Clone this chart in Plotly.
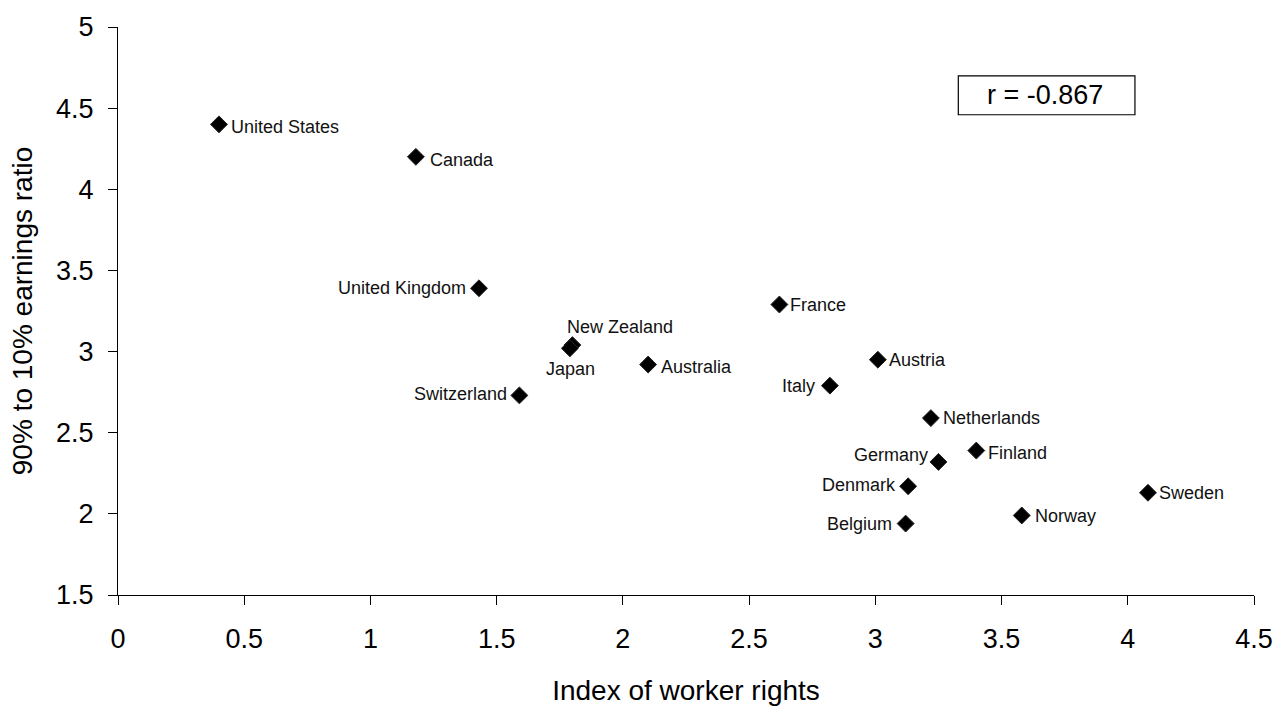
import plotly.graph_objects as go

# ---- data ----
countries = ["United States", "Canada", "United Kingdom", "New Zealand", "Japan",
             "Australia", "Switzerland", "France", "Austria", "Italy", "Netherlands",
             "Germany", "Finland", "Denmark", "Belgium", "Norway", "Sweden"]
worker_rights = [0.40, 1.18, 1.43, 1.80, 1.79, 2.10, 1.59, 2.62, 3.01, 2.82, 3.22,
                 3.25, 3.40, 3.13, 3.12, 3.58, 4.08]
earnings_ratio = [4.40, 4.20, 3.39, 3.04, 3.02, 2.92, 2.73, 3.29, 2.95, 2.79, 2.59,
                  2.32, 2.39, 2.17, 1.94, 1.99, 2.13]
x_ticks = [0, 0.5, 1, 1.5, 2, 2.5, 3, 3.5, 4, 4.5]
y_ticks = [1.5, 2, 2.5, 3, 3.5, 4, 4.5, 5]
correlation_text = "r = -0.867"

# ---- label placement (style only): (xanchor, xshift, yshift) ----
label_style = {
    "United States": ("left", 10, -3),
    "Canada": ("left", 12, -3),
    "United Kingdom": ("right", -11, 0),
    "New Zealand": ("left", -7, 18),
    "Japan": ("center", 1, -21),
    "Australia": ("left", 11, -2),
    "Switzerland": ("right", -10, 1),
    "France": ("left", 9, 0),
    "Austria": ("left", 9, 0),
    "Italy": ("right", -13, 0),
    "Netherlands": ("left", 10, 0),
    "Germany": ("right", -8, 7),
    "Finland": ("left", 10, -2),
    "Denmark": ("right", -10, 1),
    "Belgium": ("right", -12, 0),
    "Norway": ("left", 11, -1),
    "Sweden": ("left", 9, 0),
}

FONT = "Liberation Sans, Arial, sans-serif"

fig = go.Figure()
fig.add_trace(go.Scatter(
    x=worker_rights, y=earnings_ratio, mode="markers",
    marker=dict(symbol="diamond", size=13, color="black",
                line=dict(color="#222222", width=1)),
    hovertext=countries, showlegend=False,
))

annotations = []
for name, xv, yv in zip(countries, worker_rights, earnings_ratio):
    anchor, xs, ys = label_style[name]
    annotations.append(dict(
        x=xv, y=yv, xref="x", yref="y", text=name, showarrow=False,
        xanchor=anchor, yanchor="middle", xshift=xs, yshift=ys,
        font=dict(family=FONT, size=18, color="#111111"),
    ))

annotations.append(dict(
    x=0.816, y=0.881, xref="paper", yref="paper", text=correlation_text,
    showarrow=False, xanchor="center", yanchor="middle",
    font=dict(family=FONT, size=27, color="black"),
))

shapes = [dict(type="rect", xref="paper", yref="paper",
               x0=0.7397, x1=0.8952, y0=0.8455, y1=0.914,
               line=dict(color="black", width=1.2), fillcolor="white", layer="below")]

fig.update_layout(
    width=1286, height=712,
    margin=dict(l=118, r=32, t=23, b=111),
    paper_bgcolor="white", plot_bgcolor="white",
    font=dict(family=FONT, color="black"),
    annotations=annotations, shapes=shapes,
    xaxis=dict(
        range=[0, 4.5], tickvals=x_ticks, ticktext=[f"{v:g}" for v in x_ticks],
        showgrid=False, zeroline=False, showline=True, linecolor="black", linewidth=1,
        ticks="outside", ticklen=9, tickcolor="black", tickwidth=1,
        tickfont=dict(family=FONT, size=27, color="black"),
        ticklabelstandoff=11,
        title=dict(text="Index of worker rights", font=dict(family=FONT, size=28, color="black"),
                   standoff=26),
    ),
    yaxis=dict(
        range=[1.5, 5], tickvals=y_ticks, ticktext=[f"{v:g}" for v in y_ticks],
        showgrid=False, zeroline=False, showline=True, linecolor="black", linewidth=1,
        ticks="outside", ticklen=9, tickcolor="black", tickwidth=1,
        tickfont=dict(family=FONT, size=27, color="black"),
        ticklabelstandoff=9,
        title=dict(text="90% to 10% earnings ratio", font=dict(family=FONT, size=28, color="black"),
                   standoff=15),
    ),
)

fig.write_html("out.html", config={"displayModeBar": False},
               post_script="document.body.style.margin='0px';")
